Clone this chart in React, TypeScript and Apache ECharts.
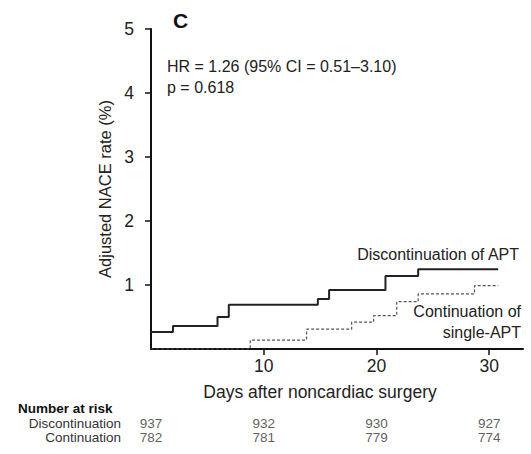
import React, { useEffect, useRef } from "react";
import * as echarts from "echarts";

const FONT = '"Liberation Sans", Arial, sans-serif';

// Adjusted NACE rate (%) step curves: [day, rate]
const discontinuation: [number, number][] = [
  [0, 0.265], [1.95, 0.36], [5.9, 0.5], [6.9, 0.69], [14.8, 0.78],
  [15.8, 0.92], [20.8, 1.14], [23.7, 1.245], [30.8, 1.245],
];
const continuation: [number, number][] = [
  [0, 0], [8.8, 0.14], [13.8, 0.31], [17.8, 0.42], [19.75, 0.52],
  [21.8, 0.74], [23.7, 0.86], [28.7, 0.99], [30.8, 0.99],
];

const yTicks = [1, 2, 3, 4, 5];
const xTicks = [10, 20, 30];

const riskDays = [0, 10, 20, 30];
const riskGroups = ["Discontinuation", "Continuation"];
const riskDiscontinuation = [937, 932, 930, 927];
const riskContinuation = [782, 781, 779, 774];

export default function App() {
  const ref = useRef<HTMLDivElement>(null);
  useEffect(() => {
    if (!ref.current) return;
    const chart = echarts.init(ref.current, null, { renderer: "svg" });
    const riskData: any[] = [];
    riskDays.forEach((d, i) => {
      riskData.push([d, riskGroups[0], riskDiscontinuation[i]]);
      riskData.push([d, riskGroups[1], riskContinuation[i]]);
    });
    const textColor = "#222";
    chart.setOption({
      animation: false,
      backgroundColor: "#fff",
      textStyle: { fontFamily: FONT },
      grid: [
        { left: 151, right: 8, top: 29, bottom: 105 },
        { left: 151, right: 8, top: 416, height: 28 },
      ],
      xAxis: [
        {
          type: "value",
          gridIndex: 0,
          min: 0,
          max: 33,
          splitLine: { show: false },
          axisLine: { lineStyle: { color: "#111", width: 2 } },
          axisTick: { show: true, length: 6, customValues: xTicks, lineStyle: { color: "#111", width: 1.5 } },
          axisLabel: { customValues: xTicks, fontSize: 17.5, color: textColor, margin: 8, fontFamily: FONT },
        },
        { type: "value", gridIndex: 1, min: 0, max: 33, show: false },
      ],
      yAxis: [
        {
          type: "value",
          gridIndex: 0,
          min: 0,
          max: 5,
          interval: 1,
          splitLine: { show: false },
          axisLine: { show: true, lineStyle: { color: "#111", width: 2 } },
          axisTick: { show: true, length: 6, customValues: yTicks, lineStyle: { color: "#111", width: 1.5 } },
          axisLabel: { customValues: yTicks, fontSize: 17.5, color: textColor, margin: 17, fontFamily: FONT },
          name: "Adjusted NACE rate (%)",
          nameLocation: "middle",
          nameGap: 38,
          nameTextStyle: { fontSize: 16.5, color: textColor, fontFamily: FONT },
        },
        {
          type: "category",
          gridIndex: 1,
          inverse: true,
          data: riskGroups,
          axisLine: { show: false },
          axisTick: { show: false },
          axisLabel: { interval: 0, fontSize: 13.5, color: "#333", margin: 30, fontFamily: FONT },
        },
      ],
      series: [
        {
          type: "line",
          name: "Discontinuation of APT",
          xAxisIndex: 0,
          yAxisIndex: 0,
          step: "end",
          showSymbol: false,
          symbol: "none",
          data: discontinuation,
          lineStyle: { color: "#222", width: 2 },
        },
        {
          type: "line",
          name: "Continuation of single-APT",
          xAxisIndex: 0,
          yAxisIndex: 0,
          step: "end",
          showSymbol: false,
          symbol: "none",
          data: continuation,
          lineStyle: { color: "#555", width: 1.2, type: [3, 2] },
        },
        {
          type: "scatter",
          xAxisIndex: 1,
          yAxisIndex: 1,
          symbolSize: 1,
          itemStyle: { color: "rgba(0,0,0,0)" },
          data: riskData,
          encode: { x: 0, y: 1 },
          label: {
            show: true,
            position: "inside",
            formatter: (p: any) => String(p.value[2]),
            fontSize: 13.5,
            color: "#333",
            fontFamily: FONT,
          },
        },
      ],
      graphic: [
        { type: "text", left: 173, top: 10, style: { text: "C", font: `bold 21px ${FONT}`, fill: "#111" } },
        { type: "text", x: 167, y: 66, style: { text: "HR = 1.26 (95% CI = 0.51–3.10)", font: `16px ${FONT}`, fill: textColor, verticalAlign: "middle" } },
        { type: "text", x: 167, y: 87, style: { text: "p = 0.618", font: `16px ${FONT}`, fill: textColor, verticalAlign: "middle" } },
        { type: "text", x: 519, y: 254, style: { text: "Discontinuation of APT", font: `16px ${FONT}`, fill: textColor, align: "right", verticalAlign: "middle" } },
        { type: "text", x: 521, y: 311, style: { text: "Continuation of", font: `16px ${FONT}`, fill: textColor, align: "right", verticalAlign: "middle" } },
        { type: "text", x: 521, y: 332, style: { text: "single-APT", font: `16px ${FONT}`, fill: textColor, align: "right", verticalAlign: "middle" } },
        { type: "text", x: 320, y: 392, style: { text: "Days after noncardiac surgery", font: `17.5px ${FONT}`, fill: textColor, align: "center", verticalAlign: "middle" } },
        { type: "text", x: 18, y: 408, style: { text: "Number at risk", font: `bold 13.5px ${FONT}`, fill: "#111", verticalAlign: "middle" } },
      ],
    });
    return () => chart.dispose();
  }, []);
  return (
    <div style={{ position: "absolute", left: 0, top: 0, width: 531, height: 454, background: "#fff" }}>
      <div ref={ref} style={{ width: 531, height: 454 }} />
    </div>
  );
}
